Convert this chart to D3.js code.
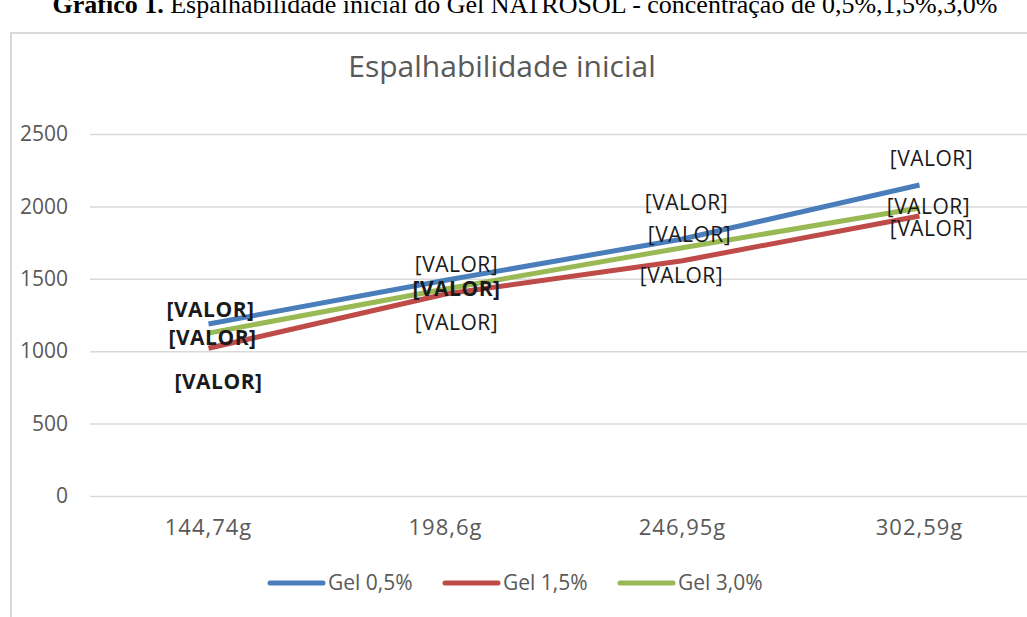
<html>
<head>
<meta charset="utf-8">
<script src="https://cdn.jsdelivr.net/npm/d3@7"></script>
<style>
  body { margin: 0; background: #fff; }
  text { font-family: "Open Sans", "Noto Sans", sans-serif; }
</style>
</head>
<body>
<svg width="1027" height="617"></svg>
<script>
// values
const categories = ["144,74g", "198,6g", "246,95g", "302,59g"];
const seriesNames = ["Gel 0,5%", "Gel 1,5%", "Gel 3,0%"];
const gel05 = [1188, 1490, 1775, 2148];
const gel15 = [1020, 1395, 1625, 1934];
const gel30 = [1125, 1430, 1715, 1989];
const yTicks = [0, 500, 1000, 1500, 2000, 2500];
const colors = ["#4a7ebb", "#be4b48", "#98b954"];

// where Excel left each "[VALOR]" label, relative to its point
const labelOffsets = [
  [[2, -14], [11, -16], [4, -36], [12, -26]],
  [[10, 33], [11, 29], [-1, 15], [12, 13]],
  [[4, 5], [11, 0], [7, -13], [9, -1]]
];
const boldLabels = [[1, 0, 0, 0], [1, 0, 0, 0], [1, 1, 0, 0]];

const series = [gel05, gel15, gel30];

const svg = d3.select("svg");

// caption above the chart (cut off at the top)
const cap = svg.append("text")
  .attr("x", 525).attr("y", 13)
  .attr("text-anchor", "middle")
  .style("font-family", "'Liberation Serif', 'Times New Roman', serif")
  .style("font-size", "26px")
  .attr("fill", "#000");
cap.append("tspan").attr("font-weight", "bold").text("Gráfico 1.");
cap.append("tspan").text(" Espalhabilidade inicial do Gel NATROSOL - concentração de 0,5%,1,5%,3,0%");

// chart frame
svg.append("rect")
  .attr("x", 11).attr("y", 33)
  .attr("width", 1040).attr("height", 620)
  .attr("fill", "#fff")
  .attr("stroke", "#d9d9d9")
  .attr("stroke-width", 2);

svg.append("text")
  .attr("x", 502).attr("y", 77)
  .attr("text-anchor", "middle")
  .attr("fill", "#595959")
  .style("font-size", "30px")
  .text("Espalhabilidade inicial");

const x = d3.scaleBand().domain(categories).range([90, 1038]);
const y = d3.scaleLinear().domain([0, 2500]).range([496, 134]);
const cx = d => x(d) + x.bandwidth() / 2;

// gridlines + y labels
const yAxis = svg.append("g")
  .attr("transform", "translate(90,0)")
  .call(d3.axisLeft(y).tickValues(yTicks).tickFormat(d3.format("d")).tickSize(-950).tickPadding(22));
yAxis.select(".domain").remove();
yAxis.selectAll("line").attr("stroke", "#d9d9d9").attr("stroke-width", 1.5);
yAxis.selectAll("text")
  .attr("fill", "#595959")
  .style("font-size", "21px")
  .style("font-family", "'Open Sans', sans-serif");

// category labels
const xAxis = svg.append("g")
  .attr("transform", "translate(0,496)")
  .call(d3.axisBottom(x).tickSize(0).tickPadding(23));
xAxis.select(".domain").remove();
xAxis.selectAll("text")
  .attr("fill", "#595959")
  .style("font-size", "22px")
  .style("letter-spacing", "1px")
  .style("font-family", "'Open Sans', sans-serif");

// lines
const line = d3.line()
  .x((d, i) => cx(categories[i]))
  .y(d => y(d));

series.forEach((s, k) => {
  svg.append("path")
    .datum(s)
    .attr("d", line)
    .attr("fill", "none")
    .attr("stroke", colors[k])
    .attr("stroke-width", 5)
    .attr("stroke-linejoin", "round");
});

// data labels
series.forEach((s, k) => {
  svg.append("g").selectAll("text")
    .data(s)
    .join("text")
    .attr("x", (d, i) => cx(categories[i]) + labelOffsets[k][i][0])
    .attr("y", (d, i) => y(d) + labelOffsets[k][i][1])
    .attr("dy", "0.35em")
    .attr("text-anchor", "middle")
    .attr("font-weight", (d, i) => boldLabels[k][i] ? "bold" : "normal")
    .attr("fill", "#1a1a1a")
    .style("font-size", "21px")
    .style("letter-spacing", "0.5px")
    .text("[VALOR]");
});

// legend
const legend = svg.append("g").attr("transform", "translate(268,583)");
const legendX = [0, 175, 350];
seriesNames.forEach((name, k) => {
  const g = legend.append("g").attr("transform", `translate(${legendX[k]},0)`);
  g.append("line")
    .attr("x1", 2).attr("x2", 55)
    .attr("stroke", colors[k])
    .attr("stroke-width", 5)
    .attr("stroke-linecap", "round");
  g.append("text")
    .attr("x", 60).attr("dy", "0.35em")
    .attr("fill", "#595959")
    .style("font-size", "21px")
    .text(name);
});
</script>
</body>
</html>
